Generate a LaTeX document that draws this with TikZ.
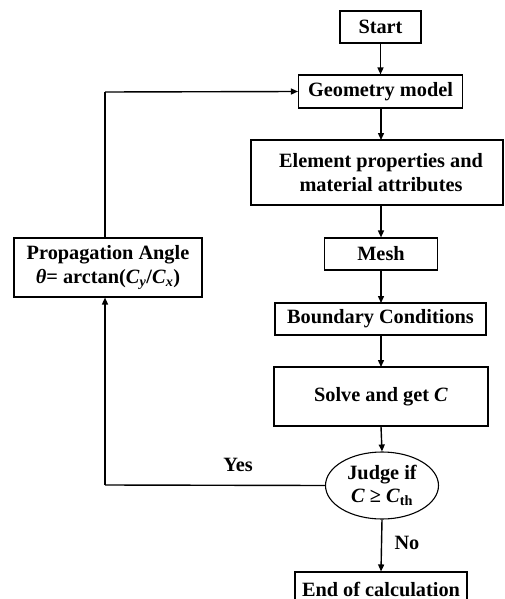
\documentclass[tikz,border=0pt]{standalone}
\usepackage{fontspec}
\setmainfont{Liberation Serif}
\usetikzlibrary{arrows.meta,shapes.geometric}
\begin{document}
\begin{tikzpicture}[x=1pt,y=-1pt,
  every node/.style={font=\fontsize{20.3}{24}\selectfont\bfseries},
  box/.style={draw, line width=1.1pt, inner sep=0pt, align=center},
  judgebox/.style={draw, ellipse, line width=1.1pt, inner sep=0pt, align=center},
  conn/.style={line width=1.4pt, -{Triangle[length=7pt,width=6pt]}},
  plain/.style={line width=1.4pt}]
\useasboundingbox (0,0) rectangle (505,599);
\node[box, minimum width=81pt, minimum height=32pt] (start) at (380.5,27) {Start};
\node[box, minimum width=164pt, minimum height=33pt] (geom) at (380.5,91.5) {Geometry model};
\node[box, minimum width=252pt, minimum height=65pt] (elem) at (377,172.5) {};
\node[align=center] (elemtxt) at (381,172.5) {Element properties and\\material attributes};
\node[box, minimum width=113pt, minimum height=32pt] (mesh) at (381,254) {Mesh};
\node[box, minimum width=211pt, minimum height=32pt] (bc) at (380.5,319) {Boundary Conditions};
\node[box, minimum width=214pt, minimum height=59pt] (solve) at (381,396.5) {Solve and get \textit{C}};
\node[judgebox, minimum width=113pt, minimum height=67pt] (judge) at (382,485.5) {Judge if\\[-1pt]\textit{C} ≥ \textit{C}\textsubscript{th}};
\node[box, minimum width=172pt, minimum height=34pt] (end) at (381,589) {End of calculation};
\node[box, minimum width=188pt, minimum height=59pt] (prop) at (108,267.5) {Propagation Angle\\\textit{θ}= arctan(\textit{C}\textsubscript{\textit{y}}/\textit{C}\textsubscript{\textit{x}})};
\coordinate (yescorner) at (105,485);
\coordinate (topcorner) at (105,92);
\draw[conn] (start.south) -- (start.south |- geom.north);
\draw[conn] (381,108) -- (381,140);
\draw[conn] (381,205) -- (mesh.north);
\draw[conn] (mesh.south) -- (381,303);
\draw[conn] (381,335) -- (381,367);
\draw[conn] (solve.south) -- (judge.north);
\draw[conn] (judge.south) -- (end.north);
\draw[plain] (judge.west) -- (yescorner);
\draw[conn] (yescorner) -- (yescorner |- prop.south);
\draw[plain] (prop.north -| topcorner) -- (topcorner);
\draw[conn] (topcorner) -- (geom.west);
\node (yes) at (238,465) {Yes};
\node[anchor=west] (no) at (391,543) {No};
\end{tikzpicture}
\end{document}
